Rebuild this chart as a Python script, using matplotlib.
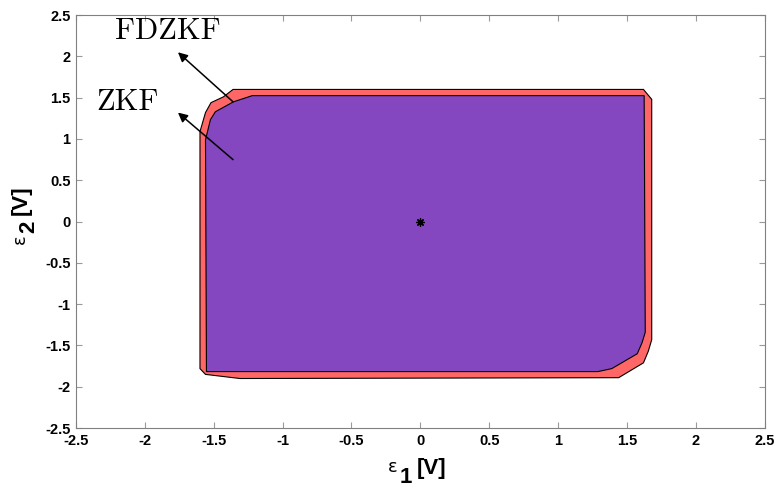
import matplotlib
matplotlib.use("Agg")
import matplotlib.pyplot as plt
from matplotlib.patches import Polygon

# Outer set (FDZKF) vertices in the (eps1, eps2) plane [V]
fdzkf_e1 = [-1.36, 1.62, 1.65, 1.68, 1.68, 1.655, 1.62, 1.44, -1.31, -1.56, -1.60, -1.60, -1.56, -1.52, -1.43]
fdzkf_e2 = [1.60, 1.60, 1.54, 1.48, -1.43, -1.57, -1.71, -1.89, -1.90, -1.85, -1.78, 1.09, 1.32, 1.44, 1.51]

# Inner set (ZKF) vertices
zkf_e1 = [-1.22, 1.625, 1.633, 1.61, 1.575, 1.39, 1.29, -1.553, -1.56, -1.524, -1.488, -1.357]
zkf_e2 = [1.525, 1.525, -1.34, -1.465, -1.60, -1.78, -1.816, -1.816, 0.99, 1.235, 1.33, 1.45]

# Equilibrium point
center = (0.0, 0.0)

# Labels and arrows: (text position, arrow head, arrow tail)
labels = ["FDZKF", "ZKF"]
label_pos = [(-1.83, 2.30), (-2.13, 1.44)]
arrow_head = [(-1.76, 2.05), (-1.76, 1.32)]
arrow_tail = [(-1.36, 1.45), (-1.36, 0.75)]

ticks = [-2.5, -2, -1.5, -1, -0.5, 0, 0.5, 1, 1.5, 2, 2.5]
tick_labels = ["-2.5", "-2", "-1.5", "-1", "-0.5", "0", "0.5", "1", "1.5", "2", "2.5"]

plt.rcParams['font.family'] = ['Liberation Sans', 'DejaVu Sans']

W, H = 779, 487
fig = plt.figure(figsize=(W / 100, H / 100), dpi=100)
ax = fig.add_axes([0.0976, 0.121, 0.884, 0.848])

ax.add_patch(Polygon(list(zip(fdzkf_e1, fdzkf_e2)), closed=True,
                     facecolor='#FF6666', edgecolor='#000000', linewidth=0.8, zorder=2))
ax.add_patch(Polygon(list(zip(zkf_e1, zkf_e2)), closed=True,
                     facecolor='#8447BF', edgecolor='#000000', linewidth=0.8, zorder=3))
ax.plot([center[0]], [center[1]], marker=(8, 2, 0), color='black',
        markersize=6, markeredgewidth=0.9, zorder=4)

for txt, pos, head, tail in zip(labels, label_pos, arrow_head, arrow_tail):
    ax.annotate("", xy=head, xytext=tail,
                arrowprops=dict(arrowstyle='-|>', color='black', lw=1.1,
                                mutation_scale=14, shrinkA=0, shrinkB=0), zorder=5)
    ax.text(pos[0], pos[1], txt, family='cmr10', fontsize=22,
            ha='center', va='center', zorder=5)

ax.set_xlim(-2.5, 2.5)
ax.set_ylim(-2.5, 2.5)
ax.set_xticks(ticks)
ax.set_xticklabels(tick_labels)
ax.set_yticks(ticks)
ax.set_yticklabels(tick_labels)
ax.tick_params(direction='in', length=4, color='#9a9a9a', labelsize=10.5,
               top=True, right=True, pad=4)
for lbl in ax.get_xticklabels() + ax.get_yticklabels():
    lbl.set_fontweight('bold')
for s in ax.spines.values():
    s.set_color('#808080')
    s.set_linewidth(0.8)


def px(x, y):
    return x / W, 1 - y / H


# Axis label: epsilon_1 [V]
fig.text(*px(393, 472), "\u03b5", family='DejaVu Sans', fontsize=13,
         ha='center', va='baseline')
fig.text(*px(406, 483), "1", fontsize=16, fontweight='bold',
         ha='center', va='baseline')
fig.text(*px(432, 474), "[V]", fontsize=16, fontweight='bold',
         ha='center', va='baseline')

# Axis label: epsilon_2 [V] (rotated)
fig.text(*px(25, 239), "\u03b5", family='DejaVu Sans', fontsize=13,
         ha='center', va='baseline', rotation=90, rotation_mode='anchor')
fig.text(*px(34, 227), "2", fontsize=16, fontweight='bold',
         ha='center', va='baseline', rotation=90, rotation_mode='anchor')
fig.text(*px(27, 200), "[V]", fontsize=16, fontweight='bold',
         ha='center', va='baseline', rotation=90, rotation_mode='anchor')

fig.savefig("out.png", dpi=100)
